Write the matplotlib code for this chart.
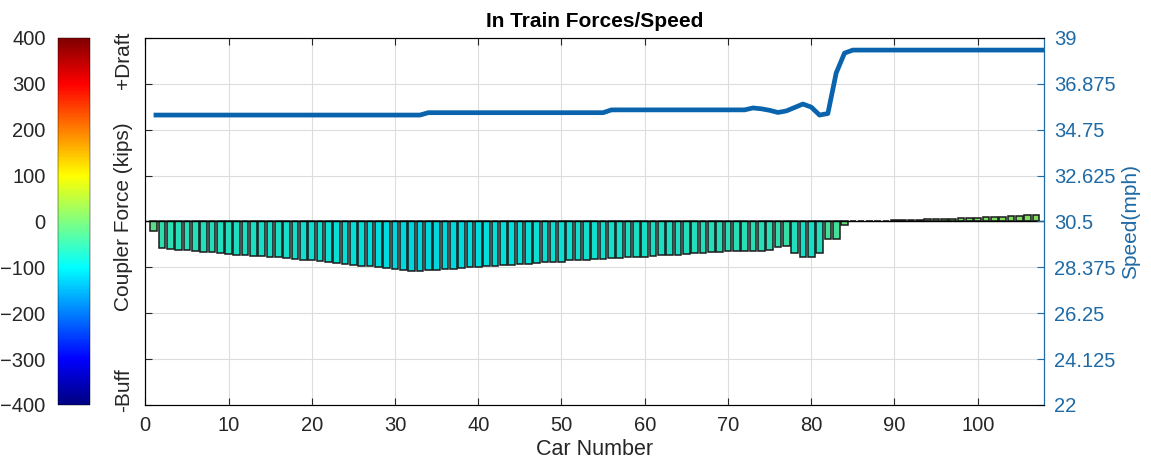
import numpy as np
import matplotlib
matplotlib.use('Agg')
import matplotlib.pyplot as plt
from matplotlib import cm, colors

plt.rcParams['font.family'] = ['Liberation Sans', 'DejaVu Sans']

# coupler force per car (kips), cars 1..107
car_force = [-20, -58, -60, -63, -63, -65, -67, -67, -69, -70,
             -72, -73, -75, -76, -78, -78, -80, -82, -84, -85,
             -87, -88, -91, -93, -94, -96, -98, -100, -102, -104,
             -106, -107, -107, -106, -105, -104, -104, -102, -100, -100,
             -98, -96, -95, -94, -93, -92, -90, -89, -89, -88,
             -85, -84, -83, -82, -82, -80, -79, -78, -77, -77,
             -76, -74, -73, -72, -70, -69, -68, -67, -66, -65,
             -64, -64, -64, -64, -62, -55, -53, -69, -77, -77,
             -69, -38, -38, -7, 0.5, 1, 1.5, 2, 2, 2.5,
             3, 3.5, 4, 4.5, 5, 5.5, 6, 7, 7.5, 8,
             9, 10, 10, 11, 13, 15, 15]
cars = np.arange(1, len(car_force) + 1)

# speed (mph) per car, cars 1..108
speed = ([35.43] * 33 + [35.54] * 22 + [35.67] * 17 +
         [35.76, 35.72, 35.65, 35.55, 35.62, 35.78, 35.94, 35.8, 35.43, 35.5, 37.38, 38.3] +
         [38.44] * 24)
speed_cars = np.arange(1, len(speed) + 1)

force_ticks = [-400, -300, -200, -100, 0, 100, 200, 300, 400]
speed_ticks = [22, 24.125, 26.25, 28.375, 30.5, 32.625, 34.75, 36.875, 39]
speed_labels = ['22', '24.125', '26.25', '28.375', '30.5', '32.625', '34.75', '36.875', '39']

# MATLAB style jet
jet_m = colors.LinearSegmentedColormap('jet_m', {
    'red':   [(0, 0, 0), (0.375, 0, 0), (0.625, 1, 1), (0.875, 1, 1), (1, 0.5, 0.5)],
    'green': [(0, 0, 0), (0.125, 0, 0), (0.375, 1, 1), (0.625, 1, 1), (0.875, 0, 0), (1, 0, 0)],
    'blue':  [(0, 0.5, 0.5), (0.125, 1, 1), (0.375, 1, 1), (0.625, 0, 0), (1, 0, 0)],
}, N=256)

blue = '#1f6aa5'
dark = '#262626'
fig = plt.figure(figsize=(11.51, 4.69), dpi=100)
ax = fig.add_axes([0.1262, 0.1365, 0.7811, 0.7825])
cax = fig.add_axes([0.0504, 0.1365, 0.0278, 0.7825])

norm = colors.Normalize(-400, 400)
# bars look a touch darker than the pure colormap
bar_colors = [tuple(np.array(jet_m(norm(v))[:3]) * 0.87) for v in car_force]
ax.bar(cars, car_force, width=0.8, color=bar_colors, edgecolor='#1a1a1a', linewidth=1.1, zorder=3)
ax.axhline(0, color='black', lw=1.0, zorder=4)

ax.set_xlim(0, 108)
ax.set_ylim(-400, 400)
ax.set_yticks(force_ticks)
ax.set_yticklabels([])
ax.set_xticks(range(0, 101, 10))
ax.tick_params(axis='x', direction='in', top=True, labelsize=14.5, length=5, pad=8, colors=dark)
ax.tick_params(axis='y', direction='in', length=5, colors=dark)
ax.grid(True, color='#dddddd', lw=0.8, zorder=0)
ax.set_axisbelow(True)
for s in ax.spines.values():
    s.set_color(dark)
ax.set_xlabel('Car Number', fontsize=15.5, color=dark, labelpad=3)
ax.set_title('In Train Forces/Speed', fontsize=15, fontweight='bold', pad=8)

ax.text(-0.0246, 0.94, '+Draft', transform=ax.transAxes, rotation=90, ha='center', va='center', fontsize=15, color=dark)
ax.text(-0.0246, 0.512, 'Coupler Force (kips)', transform=ax.transAxes, rotation=90, ha='center', va='center', fontsize=15, color=dark)
ax.text(-0.0246, 0.041, '-Buff', transform=ax.transAxes, rotation=90, ha='center', va='center', fontsize=15, color=dark)

ax2 = ax.twinx()
ax2.plot(speed_cars, speed, color='#0a64ad', lw=3.4, solid_capstyle='butt', zorder=5)
ax2.set_ylim(22, 39)
ax2.set_yticks(speed_ticks)
ax2.set_yticklabels(speed_labels)
ax2.tick_params(axis='y', direction='in', length=5, labelsize=14.5, colors=blue, pad=7)
ax2.spines['right'].set_color(blue)
ax2.set_ylabel('Speed(mph)', fontsize=15, color=blue, labelpad=4)

sm = cm.ScalarMappable(norm=norm, cmap=jet_m)
cb = fig.colorbar(sm, cax=cax, ticks=force_ticks)
cax.yaxis.set_ticks_position('left')
cax.tick_params(labelsize=14.5, length=0, pad=9, colors=dark)
cb.outline.set_linewidth(0.3)

fig.savefig('out.png', dpi=100)
